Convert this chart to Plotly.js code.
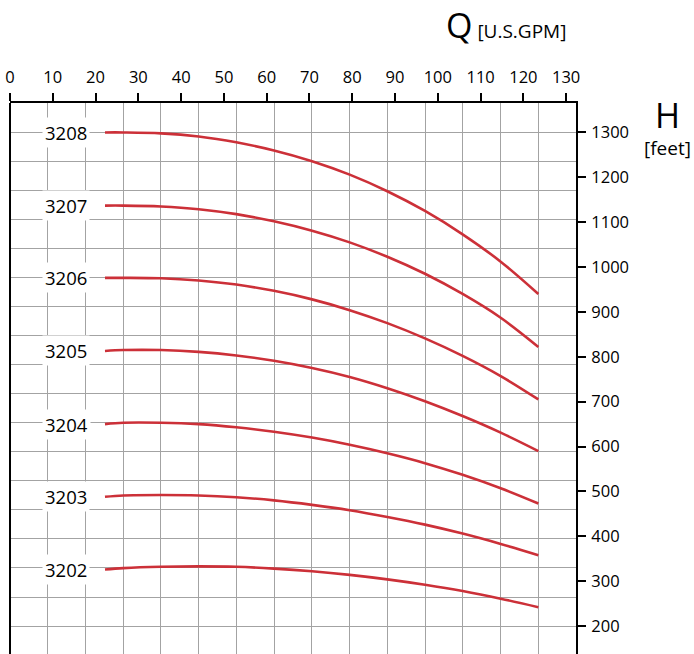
<!DOCTYPE html>
<html>
<head>
<meta charset="utf-8">
<script src="https://cdn.plot.ly/plotly-3.0.1.min.js"></script>
<style>html,body{margin:0;padding:0;background:#fff}</style>
</head>
<body>
<div id="chart" style="width:694px;height:654px"></div>
<script>
// Flow Q [U.S.GPM]
const flow = [22.2, 26.5, 35.3, 44.1, 52.9, 61.7, 70.6, 79.4, 88.2, 97.0, 105.8, 114.7, 123.5];
// Head H [feet] per pump model
const models = ["3208", "3207", "3206", "3205", "3204", "3203", "3202"];
const h3208 = [1300, 1300, 1298, 1291, 1278, 1260, 1236, 1206, 1169, 1125, 1073, 1012, 940];
const h3207 = [1137, 1137, 1135, 1129, 1118, 1102, 1081, 1055, 1023, 985, 940, 887, 822];
const h3206 = [976, 976, 975, 970, 961, 947, 928, 904, 875, 841, 802, 757, 705];
const h3205 = [813, 815, 815, 811, 803, 791, 775, 755, 730, 701, 668, 631, 590];
const h3204 = [650, 653, 653, 650, 643, 633, 620, 604, 585, 563, 537, 507, 473];
const h3203 = [488, 491, 492, 491, 487, 480, 470, 458, 443, 426, 406, 383, 358];
const h3202 = [326, 329, 332, 333, 332, 328, 322, 314, 304, 292, 278, 261, 242];
const heads = [h3208, h3207, h3206, h3205, h3204, h3203, h3202];
const xTicks = [0, 10, 20, 30, 40, 50, 60, 70, 80, 90, 100, 110, 120, 130];
const yTicks = [200, 300, 400, 500, 600, 700, 800, 900, 1000, 1100, 1200, 1300];

const FONT = "Open Sans, Noto Sans, sans-serif";
const RED = "#cc3038";
const GRID = "#a3a3a3";
const xRange = [0, 132.3];
const yRange = [137.7, 1365.6];

const traces = heads.map((h, i) => ({
  type: "scatter", mode: "lines", x: flow, y: h, name: models[i],
  line: {color: RED, width: 2.6, shape: "spline", smoothing: 1},
  hoverinfo: "skip", showlegend: false
}));
// empty trace to anchor the grid axes
traces.push({type: "scatter", x: [], y: [], xaxis: "x2", yaxis: "y2", showlegend: false, hoverinfo: "skip"});

const annotations = models.map((m, i) => ({
  x: 13.1, y: heads[i][0], xref: "x", yref: "y", text: m, showarrow: false,
  font: {family: FONT, size: 18.5, color: "#000"}, bgcolor: "#fff", borderpad: 2,
  xanchor: "center", yanchor: "middle"
}));
annotations.push({
  xref: "paper", yref: "paper", x: 0.876, y: 1.1416, xanchor: "center", yanchor: "middle",
  showarrow: false, font: {family: FONT, size: 19, color: "#000"},
  text: '<span style="font-size:34px">Q</span> [U.S.GPM]'
});
annotations.push({
  xref: "paper", yref: "paper", x: 1.161, y: 0.978, xanchor: "center", yanchor: "middle",
  showarrow: false, font: {family: FONT, size: 34, color: "#000"}, text: "H"
});
annotations.push({
  xref: "paper", yref: "paper", x: 1.161, y: 0.918, xanchor: "center", yanchor: "middle",
  showarrow: false, font: {family: FONT, size: 19, color: "#000"}, text: "[feet]"
});

const layout = {
  width: 694, height: 654,
  margin: {l: 10, r: 118, t: 103, b: 0, pad: 0},
  paper_bgcolor: "#fff", plot_bgcolor: "#fff",
  showlegend: false,
  xaxis: {
    range: xRange, side: "top", tickvals: xTicks, ticktext: xTicks.map(String),
    ticks: "outside", ticklen: 8, tickwidth: 2, tickcolor: "#000", ticklabelstandoff: 3,
    showline: true, linewidth: 2, linecolor: "#000", showgrid: false, zeroline: false,
    tickfont: {family: FONT, size: 16.5, color: "#000"}, fixedrange: true
  },
  yaxis: {
    range: yRange, side: "right", tickvals: yTicks, ticktext: yTicks.map(String),
    ticks: "outside", ticklen: 8, tickwidth: 2, tickcolor: "#000", ticklabelstandoff: 2,
    showline: true, linewidth: 2, linecolor: "#000", showgrid: false, zeroline: false,
    tickfont: {family: FONT, size: 16.5, color: "#000"}, fixedrange: true
  },
  xaxis2: {
    overlaying: "x", anchor: "y", side: "top", range: xRange,
    tick0: 0, dtick: 132.3 / 15, showgrid: true, gridcolor: GRID, gridwidth: 1,
    showticklabels: false, ticks: "", showline: false, zeroline: false, fixedrange: true
  },
  yaxis2: {
    overlaying: "y", anchor: "x", side: "right", range: yRange,
    tick0: 200, dtick: 1100 / 17, showgrid: true, gridcolor: GRID, gridwidth: 1,
    showticklabels: false, ticks: "", showline: false, zeroline: false, fixedrange: true
  },
  shapes: [{
    type: "line", xref: "paper", yref: "paper", x0: 0, x1: 0, y0: 0, y1: 1,
    line: {color: "#000", width: 2}
  }],
  annotations: annotations
};

Plotly.newPlot("chart", traces, layout, {displayModeBar: false, staticPlot: true});
</script>
</body>
</html>
